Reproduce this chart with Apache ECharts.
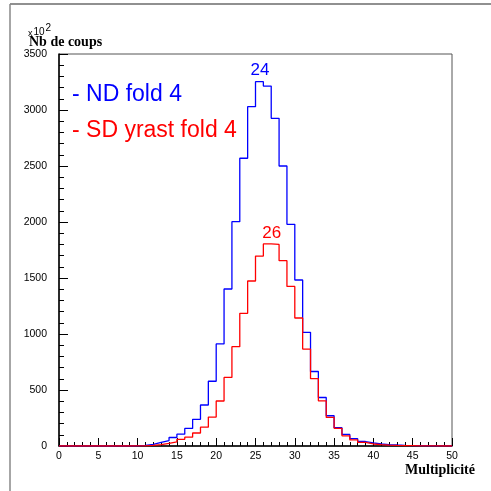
<!DOCTYPE html>
<html>
<head>
<meta charset="utf-8">
<script src="https://cdn.jsdelivr.net/npm/echarts@6/dist/echarts.min.js"></script>
<style>html,body{margin:0;padding:0;background:#fff;}#c{width:491px;height:491px;}</style>
</head>
<body>
<div id="c"></div>
<script>
// Bin lower edges (Multiplicité), bins of width 1 from 0 to 50
const binEdges = Array.from({length: 50}, (_, i) => i);
// Counts (x10^2) — ND fold 4 (blue)
const ndFold4 = [
  0, 0, 0, 0, 0, 0, 0, 0, 0, 2,
  5, 15, 32, 48, 76, 106, 157, 238, 366, 578,
  911, 1402, 2003, 2569, 3030, 3253, 3214, 2926, 2500, 1979,
  1482, 1015, 665, 433, 270, 164, 103, 65, 40, 28,
  18, 13, 9, 6, 4, 3, 2, 1, 1, 0
];
// Counts (x10^2) — SD yrast fold 4 (red)
const sdYrastFold4 = [
  0, 0, 0, 0, 0, 0, 0, 0, 0, 1,
  2, 6, 12, 24, 36, 60, 79, 116, 168, 258,
  402, 612, 887, 1185, 1473, 1696, 1804, 1800, 1655, 1425,
  1143, 865, 601, 403, 255, 158, 91, 54, 32, 18,
  12, 8, 5, 4, 3, 2, 1, 1, 0, 0
];
const xTicks = [0, 5, 10, 15, 20, 25, 30, 35, 40, 45, 50];
const yTicks = [0, 500, 1000, 1500, 2000, 2500, 3000, 3500];
const seriesNames = ['- ND fold 4', '- SD yrast fold 4'];
const peakLabels = [{text: '24', coord: [25.57, 3357]}, {text: '26', coord: [27.07, 1899]}];

function histData(counts) {
  const d = binEdges.map((x, i) => [x, counts[i]]);
  d.push([binEdges[binEdges.length - 1] + 1, counts[counts.length - 1]]);
  return d;
}

const chart = echarts.init(document.getElementById('c'), null, {renderer: 'canvas'});
const labelFont = {color: '#000', fontFamily: 'Liberation Sans', fontSize: 10.5, formatter: v => String(v)};

chart.setOption({
  animation: false,
  backgroundColor: '#fff',
  grid: {left: 59, right: 39, top: 54, bottom: 45, show: true, borderColor: '#555', borderWidth: 1, backgroundColor: 'transparent'},
  xAxis: {
    type: 'value', min: xTicks[0], max: xTicks[xTicks.length - 1], interval: 5,
    axisLine: {show: true, onZero: false, lineStyle: {color: '#000', width: 1.5}},
    axisTick: {show: true, inside: true, length: 8, lineStyle: {color: '#000', width: 1}},
    minorTick: {show: true, splitNumber: 5, length: 4, lineStyle: {color: '#000', width: 1}},
    axisLabel: Object.assign({margin: 5}, labelFont),
    splitLine: {show: false}, minorSplitLine: {show: false}
  },
  yAxis: {
    type: 'value', min: yTicks[0], max: yTicks[yTicks.length - 1], interval: 500,
    axisLine: {show: true, onZero: false, lineStyle: {color: '#000', width: 1.5}},
    axisTick: {show: true, inside: true, length: 9, lineStyle: {color: '#000', width: 1}},
    minorTick: {show: true, splitNumber: 5, length: 5, lineStyle: {color: '#000', width: 1}},
    axisLabel: Object.assign({margin: 12}, labelFont),
    splitLine: {show: false}, minorSplitLine: {show: false}
  },
  series: [
    {
      name: seriesNames[0], type: 'line', step: 'end', symbol: 'none',
      data: histData(ndFold4), z: 2,
      lineStyle: {color: '#0000ff', width: 1.3},
      markPoint: {
        symbol: 'circle', symbolSize: 1, itemStyle: {color: 'rgba(0,0,0,0)'},
        label: {show: true, position: 'inside', color: '#0000ff', fontFamily: 'Liberation Sans', fontSize: 17, formatter: p => p.name},
        data: [{name: peakLabels[0].text, coord: peakLabels[0].coord}]
      }
    },
    {
      name: seriesNames[1], type: 'line', step: 'end', symbol: 'none',
      data: histData(sdYrastFold4), z: 3,
      lineStyle: {color: '#ff0000', width: 1.3},
      markPoint: {
        symbol: 'circle', symbolSize: 1, itemStyle: {color: 'rgba(0,0,0,0)'},
        label: {show: true, position: 'inside', color: '#ff0000', fontFamily: 'Liberation Sans', fontSize: 17, formatter: p => p.name},
        data: [{name: peakLabels[1].text, coord: peakLabels[1].coord}]
      }
    }
  ],
  graphic: [
    {type: 'line', shape: {x1: 10, y1: 4, x2: 491, y2: 4}, style: {stroke: '#222', lineWidth: 1.2}, silent: true},
    {type: 'line', shape: {x1: 10, y1: 4, x2: 10, y2: 491}, style: {stroke: '#888', lineWidth: 1.5}, silent: true},
    {type: 'text', left: 72, top: 83, style: {text: seriesNames[0], fill: '#0000ff', font: '23px "Liberation Sans"'}},
    {type: 'text', left: 72, top: 119, style: {text: seriesNames[1], fill: '#ff0000', font: '23px "Liberation Sans"'}},
    {type: 'text', x: 29, y: 42, style: {text: 'Nb de coups', fill: '#000', font: 'bold 14px "Liberation Serif"', textVerticalAlign: 'middle'}},
    {type: 'text', x: 28, y: 32, style: {
      text: '{a|x}{b|10}{c|2}', textVerticalAlign: 'middle',
      rich: {
        a: {fontFamily: 'Liberation Sans', fontSize: 9, fill: '#000', padding: [3, 1, 0, 0]},
        b: {fontFamily: 'Liberation Sans', fontSize: 10, fill: '#000'},
        c: {fontFamily: 'Liberation Sans', fontSize: 10, fill: '#000', padding: [0, 0, 8, 1]}
      }
    }},
    {type: 'text', x: 475, y: 470, style: {text: 'Multiplicité', fill: '#000', font: 'bold 14px "Liberation Serif"', textAlign: 'right', textVerticalAlign: 'middle'}}
  ]
});
</script>
</body>
</html>
